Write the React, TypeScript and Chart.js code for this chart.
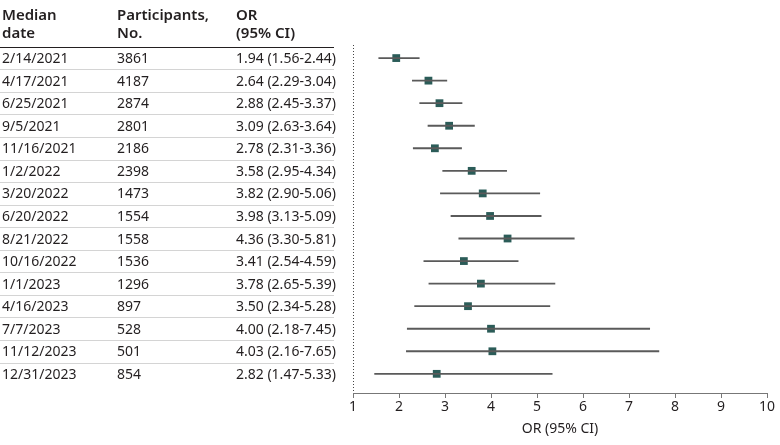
import React, { useEffect, useRef } from 'react';
import { Chart, registerables } from 'chart.js';

Chart.register(...registerables);

const dates = [
  '2/14/2021', '4/17/2021', '6/25/2021', '9/5/2021', '11/16/2021',
  '1/2/2022', '3/20/2022', '6/20/2022', '8/21/2022', '10/16/2022',
  '1/1/2023', '4/16/2023', '7/7/2023', '11/12/2023', '12/31/2023',
];
const participants = [3861, 4187, 2874, 2801, 2186, 2398, 1473, 1554, 1558, 1536, 1296, 897, 528, 501, 854];
const oddsRatios = [1.94, 2.64, 2.88, 3.09, 2.78, 3.58, 3.82, 3.98, 4.36, 3.41, 3.78, 3.5, 4.0, 4.03, 2.82];
const ciLow = [1.56, 2.29, 2.45, 2.63, 2.31, 2.95, 2.9, 3.13, 3.3, 2.54, 2.65, 2.34, 2.18, 2.16, 1.47];
const ciHigh = [2.44, 3.04, 3.37, 3.64, 3.36, 4.34, 5.06, 5.09, 5.81, 4.59, 5.39, 5.28, 7.45, 7.65, 5.33];
const headers = [['Median', 'date'], ['Participants,', 'No.'], ['OR', '(95% CI)']];

const FONT = '"Noto Sans", sans-serif';
const TEXT = '#231f20';
const colX = [2, 117, 236];
const tableRight = 334;

const fmt = (v: number) => v.toFixed(2);

const forestTable = {
  id: 'forestTable',
  beforeDatasetsDraw(chart: Chart) {
    const { ctx, chartArea } = chart;
    const x = chart.scales.x;
    const px = Math.round(x.getPixelForValue(1)) + 0.5;
    ctx.save();
    ctx.strokeStyle = '#444';
    ctx.lineWidth = 1;
    ctx.setLineDash([1, 2]);
    ctx.beginPath();
    ctx.moveTo(px, chartArea.top);
    ctx.lineTo(px, chartArea.bottom);
    ctx.stroke();
    ctx.restore();
  },
  afterDraw(chart: Chart) {
    const { ctx } = chart;
    const y = chart.scales.y;
    const headLine = y.getPixelForValue(-0.5);
    ctx.save();
    ctx.fillStyle = TEXT;
    ctx.textBaseline = 'alphabetic';
    ctx.textAlign = 'left';

    // header
    ctx.font = `600 15px ${FONT}`;
    headers.forEach((h, c) => {
      ctx.fillText(h[0], colX[c], headLine - 27);
      ctx.fillText(h[1], colX[c], headLine - 9);
    });
    ctx.strokeStyle = '#231f20';
    ctx.lineWidth = 1.2;
    ctx.beginPath();
    ctx.moveTo(0, Math.round(headLine) + 0.5);
    ctx.lineTo(tableRight, Math.round(headLine) + 0.5);
    ctx.stroke();

    // rows
    ctx.font = `14px ${FONT}`;
    dates.forEach((d, i) => {
      const py = y.getPixelForValue(i);
      ctx.fillText(d, colX[0], py + 5);
      ctx.fillText(String(participants[i]), colX[1], py + 5);
      ctx.fillText(`${fmt(oddsRatios[i])} (${fmt(ciLow[i])}-${fmt(ciHigh[i])})`, colX[2], py + 5);
    });

    ctx.strokeStyle = '#d4d4d4';
    ctx.lineWidth = 1;
    for (let i = 0; i < dates.length - 1; i++) {
      const ly = Math.round(y.getPixelForValue(i + 0.5)) + 0.5;
      ctx.beginPath();
      ctx.moveTo(0, ly);
      ctx.lineTo(tableRight, ly);
      ctx.stroke();
    }
    ctx.restore();
  },
};

const App: React.FC = () => {
  const canvasRef = useRef<HTMLCanvasElement>(null);

  useEffect(() => {
    if (!canvasRef.current) return;
    const chart = new Chart(canvasRef.current, {
      type: 'scatter',
      data: {
        datasets: [
          {
            type: 'bar',
            indexAxis: 'y',
            data: dates.map((_, i) => ({ y: i, x: [ciLow[i], ciHigh[i]] })),
            backgroundColor: '#5a5a5a',
            barThickness: 1.2,
            borderWidth: 0,
          } as any,
          {
            type: 'scatter',
            data: dates.map((_, i) => ({ x: oddsRatios[i], y: i })),
            pointStyle: 'rect',
            pointRadius: 5.5,
            pointHoverRadius: 5.5,
            backgroundColor: '#2b5c58',
            borderWidth: 0,
          },
        ],
      },
      options: {
        animation: false,
        responsive: false,
        layout: { padding: { left: 353, right: 13, top: 45, bottom: 0 } },
        plugins: { legend: { display: false }, tooltip: { enabled: false } },
        scales: {
          x: {
            type: 'linear',
            min: 1,
            max: 10,
            beginAtZero: false,
            afterFit: (scale: any) => { scale.height = 52; },
            ticks: { stepSize: 1, color: TEXT, font: { family: FONT, size: 14 }, padding: 1 },
            grid: { display: true, drawOnChartArea: false, drawTicks: true, tickLength: 5, color: '#777' },
            border: { color: '#777', width: 1 },
            title: {
              display: true,
              text: 'OR (95% CI)',
              color: TEXT,
              font: { family: FONT, size: 14 },
              padding: { top: 4, bottom: 8 },
            },
          },
          y: {
            type: 'linear',
            display: false,
            reverse: true,
            offset: false,
            min: -0.58,
            max: 14.85,
          },
        },
      },
      plugins: [forestTable],
    });
    return () => chart.destroy();
  }, []);

  return (
    <div style={{ position: 'absolute', left: 0, top: 0, width: 780, height: 445, background: '#fff' }}>
      <canvas ref={canvasRef} width={780} height={445} style={{ display: 'block' }} />
    </div>
  );
};

export default App;
